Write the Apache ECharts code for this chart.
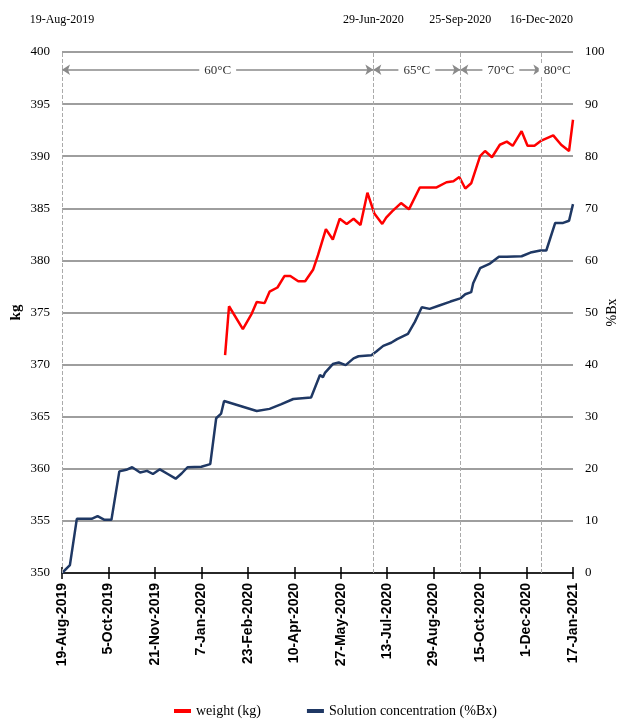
<!DOCTYPE html>
<html>
<head>
<meta charset="utf-8">
<script src="https://cdn.jsdelivr.net/npm/echarts@6/dist/echarts.min.js"></script>
<style>
  html, body { margin: 0; padding: 0; background: #fff; }
  #chart { width: 620px; height: 719px; }
</style>
</head>
<body>
<div id="chart"></div>
<script>
// x values are days since 19-Aug-2019
const START = Date.UTC(2019, 7, 19);
const X_MAX = 517;
const X_STEP = 47;

const weightDays = [165, 169, 183, 192, 197, 205, 210, 218, 225, 231, 239, 246, 254, 259, 267, 274, 281, 288, 295, 302,
  309, 316, 324, 328, 334, 343, 351, 362, 379, 389, 396, 402, 408, 414, 423, 428, 435, 443, 450, 456,
  465, 471, 478, 485, 497, 505, 513, 517];
const weightKg = [370.9, 375.6, 373.4, 374.9, 376.0, 375.9, 377.0, 377.4, 378.5, 378.5, 378.0, 378.0, 379.1, 380.5, 383.0, 382.0, 384.0, 383.5, 384.0, 383.4,
  386.5, 384.5, 383.5, 384.1, 384.7, 385.5, 384.9, 387.0, 387.0, 387.5, 387.6, 388.0, 386.9, 387.4, 390.0, 390.5, 389.9, 391.1, 391.4, 391.0,
  392.4, 391.0, 391.0, 391.5, 392.0, 391.1, 390.5, 393.5];

const brixDays = [0, 8, 15, 30, 36, 43, 50, 58, 65, 71, 79, 86, 92, 99, 107, 115, 121, 127, 141, 150,
  156, 161, 164, 197, 210, 222, 234, 252, 261, 264, 266, 274, 280, 287, 295, 300, 313, 318, 325, 333,
  339, 350, 357, 364, 372, 381, 393, 403, 408, 414, 416, 423, 433, 442, 450, 465, 474, 484, 490, 499,
  507, 513, 517];
const brixValues = [0, 1.5, 10.4, 10.4, 10.9, 10.2, 10.2, 19.5, 19.8, 20.3, 19.3, 19.6, 19.0, 19.9, 19.0, 18.1, 19.1, 20.3, 20.4, 20.9,
  29.7, 30.6, 33.0, 31.1, 31.5, 32.4, 33.4, 33.7, 38.0, 37.6, 38.4, 40.1, 40.4, 39.9, 41.2, 41.6, 41.8, 42.5, 43.6, 44.2,
  44.9, 45.9, 48.2, 51.0, 50.7, 51.3, 52.1, 52.7, 53.5, 53.9, 55.6, 58.5, 59.4, 60.7, 60.7, 60.8, 61.5, 61.9, 61.9, 67.2,
  67.2, 67.6, 70.8];

// temperature stages: boundaries (days) and labels
const stageBounds = [0, 315, 403, 485, 517];
const stageLabels = ['60°C', '65°C', '70°C', '80°C'];
const phaseDays = [0, 315, 403, 485];

const MONTHS = ['Jan', 'Feb', 'Mar', 'Apr', 'May', 'Jun', 'Jul', 'Aug', 'Sep', 'Oct', 'Nov', 'Dec'];
function dayLabel(d) {
  const dt = new Date(START + Math.round(d) * 86400000);
  return dt.getUTCDate() + '-' + MONTHS[dt.getUTCMonth()] + '-' + dt.getUTCFullYear();
}

const SERIF = '"Liberation Serif", "Times New Roman", serif';
const chart = echarts.init(document.getElementById('chart'));

const arrowLines = stageLabels.map((t, i) => [
  { coord: [stageBounds[i], 398.3], label: { formatter: t } },
  { coord: [stageBounds[i + 1], 398.3] }
]);

chart.setOption({
  animation: false,
  grid: { left: 62, right: 47, top: 52, bottom: 146, containLabel: false, outerBoundsMode: 'none' },
  legend: {
    data: ['weight (kg)', 'Solution concentration (%Bx)'],
    left: 169, top: 699, icon: 'rect', itemWidth: 17, itemHeight: 4, itemGap: 46,
    textStyle: { fontFamily: SERIF, fontSize: 14, color: '#000' }
  },
  xAxis: [{
    type: 'value', min: 0, max: X_MAX, interval: X_STEP,
    axisLine: { lineStyle: { color: '#000', width: 1.5 } },
    axisTick: { length: 6, lineStyle: { color: '#000', width: 1.5 } },
    splitLine: { show: false },
    axisLabel: {
      rotate: 90, margin: 10, formatter: dayLabel,
      fontFamily: '"Liberation Sans", Arial, sans-serif', fontWeight: 'bold', fontSize: 14, color: '#000'
    }
  }, {
    type: 'value', min: 0, max: X_MAX, interval: X_STEP, position: 'bottom',
    axisLine: { show: false },
    axisTick: { inside: true, length: 6, lineStyle: { color: '#000', width: 1.5 } },
    axisLabel: { show: false }, splitLine: { show: false }
  }],
  yAxis: [{
    type: 'value', min: 350, max: 400, interval: 5,
    name: 'kg', nameLocation: 'middle', nameGap: 38, nameRotate: 90, nameMoveOverlap: false,
    nameTextStyle: { fontFamily: SERIF, fontSize: 15, fontWeight: 'bold', color: '#000' },
    axisLine: { show: false }, axisTick: { show: false },
    axisLabel: { margin: 12, fontFamily: SERIF, fontSize: 13, color: '#000' },
    splitLine: { lineStyle: { color: '#9e9e9e', width: 2 } }
  }, {
    type: 'value', min: 0, max: 100, interval: 10,
    name: '%Bx', nameLocation: 'middle', nameGap: 32, nameRotate: 90, nameMoveOverlap: false,
    nameTextStyle: { fontFamily: SERIF, fontSize: 14, color: '#000' },
    axisLine: { show: false }, axisTick: { show: false },
    axisLabel: { margin: 12, fontFamily: SERIF, fontSize: 13, color: '#000' },
    splitLine: { show: false }
  }],
  series: [{
    name: 'weight (kg)', type: 'line', yAxisIndex: 0, symbol: 'none',
    data: weightDays.map((d, i) => [d, weightKg[i]]),
    lineStyle: { color: '#ff0000', width: 2.5 }, itemStyle: { color: '#ff0000' },
    markLine: {
      silent: true, symbol: ['arrow', 'arrow'], symbolSize: 8,
      lineStyle: { color: '#8a8a8a', width: 1.5, type: 'solid' },
      label: {
        position: 'middle', distance: -7, color: '#333', fontFamily: SERIF, fontSize: 13,
        backgroundColor: '#fff', padding: [0, 5]
      },
      data: arrowLines
    }
  }, {
    name: 'Solution concentration (%Bx)', type: 'line', yAxisIndex: 1, symbol: 'none',
    data: brixDays.map((d, i) => [d, brixValues[i]]),
    lineStyle: { color: '#1f3864', width: 2.5 }, itemStyle: { color: '#1f3864' },
    markLine: {
      silent: true, symbol: ['none', 'none'],
      lineStyle: { color: '#aaa', width: 1, type: 'dashed' },
      label: {
        position: 'end', distance: 26, formatter: p => dayLabel(p.value),
        fontFamily: SERIF, fontSize: 12, color: '#000'
      },
      data: phaseDays.map(d => ({ xAxis: d }))
    }
  }]
});
</script>
</body>
</html>
